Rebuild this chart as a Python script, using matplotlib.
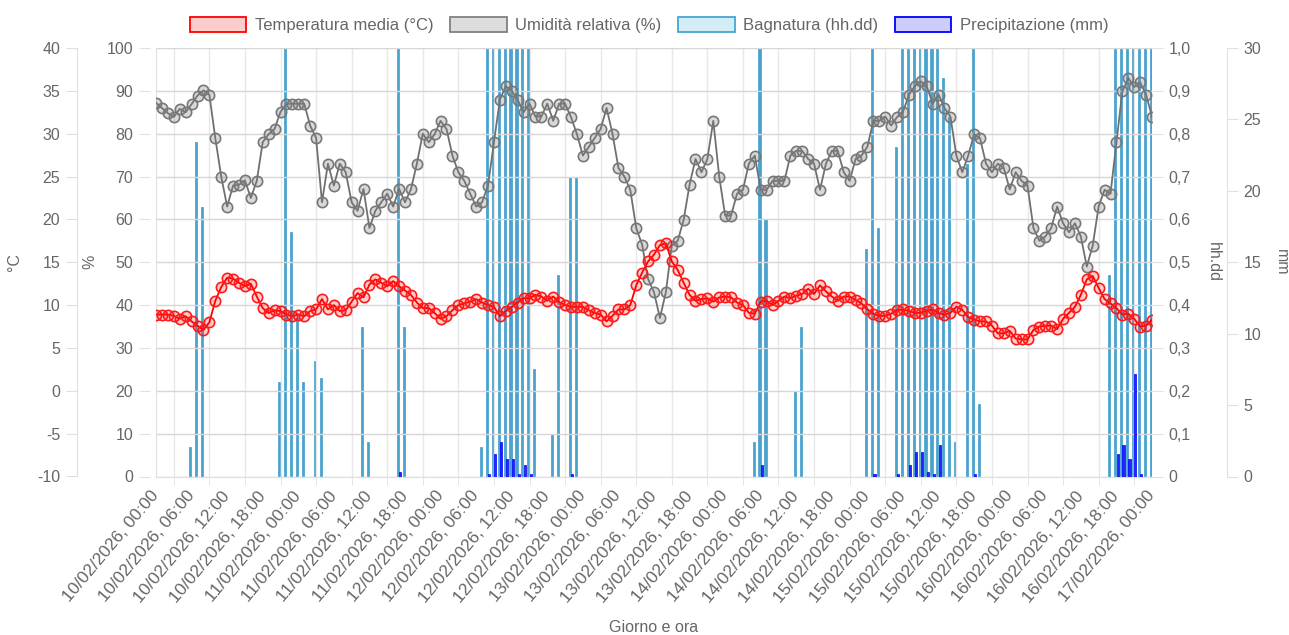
import numpy as np
import matplotlib.pyplot as plt
from matplotlib.patches import Patch
from datetime import datetime, timedelta

plt.rcParams['font.family'] = ['Liberation Sans', 'DejaVu Sans']
plt.rcParams['axes.unicode_minus'] = False

# hourly data, 10/02/2026 00:00 -> 17/02/2026 00:00
start = datetime(2026, 2, 10, 0, 0)
ore = [start + timedelta(hours=h) for h in range(169)]
etichette = [t.strftime('%d/%m/%Y, %H:%M') for t in ore]

temperatura = [
    8.9, 8.9, 8.9, 8.75, 8.4, 8.7, 8.1, 7.6, 7.1, 8.0, 10.5, 12.1,
    13.2, 13.1, 12.6, 12.2, 12.5, 11.0, 9.65, 9.07, 9.4, 9.3, 8.9, 8.7,
    8.9, 8.7, 9.3, 9.5, 10.7, 9.5, 10.0, 9.3, 9.4, 10.4, 11.4, 10.9,
    12.4, 13.0, 12.6, 12.2, 12.8, 12.2, 11.7, 11.2, 10.3, 9.65, 9.65, 9.07,
    8.4, 8.7, 9.4, 10.0, 10.2, 10.4, 10.7, 10.3, 10.0, 9.8, 8.7, 9.3,
    9.8, 10.3, 10.8, 10.8, 11.2, 11.0, 10.5, 11.0, 10.35, 10.0, 9.8, 9.8,
    9.8, 9.4, 9.07, 8.9, 8.1, 8.75, 9.5, 9.5, 10.0, 12.3, 13.8, 15.1,
    15.9, 17.0, 17.2, 15.1, 14.1, 12.6, 11.2, 10.5, 10.7, 10.8, 10.4, 10.9,
    11.0, 10.9, 10.3, 10.0, 9.1, 9.0, 10.4, 10.5, 10.0, 10.5, 11.0, 10.8,
    11.1, 11.3, 11.9, 11.3, 12.3, 11.6, 11.0, 10.5, 11.0, 11.0, 10.6, 10.2,
    9.5, 9.0, 8.75, 8.75, 9.0, 9.4, 9.5, 9.3, 9.1, 9.1, 9.35, 9.5,
    9.07, 8.9, 9.1, 9.8, 9.45, 8.6, 8.3, 8.1, 8.1, 7.6, 6.7, 6.7,
    7.0, 6.1, 6.0, 6.0, 7.1, 7.5, 7.6, 7.6, 7.2, 8.4, 9.1, 9.8,
    11.2, 13.0, 13.4, 12.0, 10.7, 10.2, 9.65, 8.9, 9.0, 8.4, 7.5, 7.6,
    8.3,
]

umidita = [
    87.2, 86.0, 84.8, 83.9, 85.8, 85.0, 86.9, 88.9, 90.1, 89.1, 79.0, 70.0,
    63.0, 67.9, 68.1, 69.1, 65.0, 69.0, 78.0, 79.9, 81.1, 85.1, 87.0, 87.0,
    87.0, 87.0, 81.9, 79.0, 64.0, 73.0, 67.9, 73.0, 71.0, 64.0, 62.0, 67.1,
    58.0, 62.0, 64.0, 66.0, 63.0, 67.1, 64.0, 67.0, 73.0, 80.0, 78.0, 79.9,
    83.0, 81.1, 74.9, 71.0, 69.0, 66.0, 63.0, 64.0, 67.9, 78.0, 87.9, 91.1,
    90.0, 87.9, 85.0, 87.0, 84.0, 84.0, 87.0, 83.0, 87.0, 87.0, 83.9, 79.9,
    74.9, 76.9, 79.0, 81.1, 86.0, 80.0, 72.0, 70.0, 66.9, 58.0, 54.1, 46.1,
    43.0, 37.0, 43.0, 53.9, 55.0, 59.9, 68.1, 74.1, 71.0, 74.1, 83.0, 70.0,
    60.9, 60.9, 66.0, 66.9, 73.0, 74.9, 66.9, 66.9, 69.0, 69.0, 69.0, 74.9,
    76.0, 76.0, 74.1, 73.0, 66.9, 73.0, 76.0, 76.0, 71.0, 69.0, 74.1, 74.9,
    77.0, 83.0, 83.0, 84.0, 81.9, 83.9, 85.1, 89.1, 91.1, 92.2, 91.1, 87.0,
    89.1, 86.0, 84.0, 74.9, 71.0, 74.9, 79.9, 78.9, 73.0, 71.0, 73.0, 72.0,
    67.0, 71.0, 69.0, 67.9, 58.0, 55.0, 56.0, 58.0, 63.0, 59.1, 57.0, 59.1,
    56.0, 49.0, 53.9, 63.0, 66.9, 66.0, 78.0, 89.9, 93.0, 90.9, 92.0, 89.1,
    84.0,
]

bagnatura = [
    0, 0, 0, 0, 0, 0, 0.07, 0.78, 0.63, 0, 0, 0,
    0, 0, 0, 0, 0, 0, 0, 0, 0, 0.22, 1.0, 0.57,
    0.37, 0.22, 0, 0.27, 0.23, 0, 0, 0, 0, 0, 0, 0.35,
    0.08, 0, 0, 0, 0, 1.0, 0.35, 0, 0, 0, 0, 0,
    0, 0, 0, 0, 0, 0, 0, 0.07, 1.0, 1.0, 1.0, 1.0,
    1.0, 1.0, 1.0, 1.0, 0.25, 0, 0, 0.1, 0.47, 0, 0.7, 0.7,
    0, 0, 0, 0, 0, 0, 0, 0, 0, 0, 0, 0,
    0, 0, 0, 0, 0, 0, 0, 0, 0, 0, 0, 0,
    0, 0, 0, 0, 0, 0.08, 1.0, 0.6, 0, 0, 0, 0,
    0.2, 0.35, 0, 0, 0, 0, 0, 0, 0, 0, 0, 0,
    0.53, 1.0, 0.58, 0, 0, 0.77, 1.0, 1.0, 1.0, 1.0, 1.0, 1.0,
    1.0, 0.93, 0.84, 0.08, 0, 0.73, 1.0, 0.17, 0, 0, 0, 0,
    0, 0, 0, 0, 0, 0, 0, 0, 0, 0, 0, 0,
    0, 0, 0, 0, 0, 0.47, 1.0, 1.0, 1.0, 1.0, 1.0, 1.0,
    1.0,
]

precipitazione = [
    0, 0, 0, 0, 0, 0, 0, 0, 0, 0, 0, 0,
    0, 0, 0, 0, 0, 0, 0, 0, 0, 0, 0, 0,
    0, 0, 0, 0, 0, 0, 0, 0, 0, 0, 0, 0,
    0, 0, 0, 0, 0, 0.3, 0, 0, 0, 0, 0, 0,
    0, 0, 0, 0, 0, 0, 0, 0, 0.2, 1.6, 2.4, 1.2,
    1.2, 0.2, 0.8, 0.2, 0, 0, 0, 0, 0, 0, 0.15, 0,
    0, 0, 0, 0, 0, 0, 0, 0, 0, 0, 0, 0,
    0, 0, 0, 0, 0, 0, 0, 0, 0, 0, 0, 0,
    0, 0, 0, 0, 0, 0, 0.8, 0, 0, 0, 0, 0,
    0, 0, 0, 0, 0, 0, 0, 0, 0, 0, 0, 0,
    0, 0.2, 0, 0, 0, 0.2, 0, 0.8, 1.75, 1.75, 0.35, 0.2,
    2.2, 0, 0, 0, 0, 0, 0.2, 0, 0, 0, 0, 0,
    0, 0, 0, 0, 0, 0, 0, 0, 0, 0, 0, 0,
    0, 0, 0, 0, 0, 0, 1.6, 2.2, 1.2, 7.2, 0.2, 0,
    0,
]

x = np.arange(len(ore))
grigio = '#666666'
fs = 11.5

fig = plt.figure(figsize=(12.89, 6.35), dpi=100)
W, H = 1289, 635
rect = [156 / W, 1 - 476.5 / H, (1152 - 156) / W, (476.5 - 48) / H]

ax_b = fig.add_axes(rect)
ax_p = ax_b.twinx()
ax_h = ax_b.twinx()
ax_t = ax_b.twinx()
for z, a in enumerate([ax_b, ax_p, ax_h, ax_t]):
    a.set_zorder(z)
    if z > 0:
        a.patch.set_visible(False)
    for s in a.spines.values():
        s.set_visible(False)
    a.set_xlim(0, 168)

# bars (two bar datasets grouped in each hour)
ax_b.bar(x - 0.2, bagnatura, width=0.36, color='#4aa3cf', edgecolor='#3d9dcb', linewidth=0.5)
ax_p.bar(x + 0.2, precipitazione, width=0.36, color='#2424ff', edgecolor='#0000ff', linewidth=0.5)

# lines
ax_h.plot(x, umidita, color='#707070', lw=1.3, marker='o', ms=7.4,
          mfc=(0.5, 0.5, 0.5, 0.3), mec='#777777', mew=1.2)
ax_t.plot(x, temperatura, color='#ff0000', lw=1.3, marker='o', ms=7.4,
          mfc=(1, 0, 0, 0.2), mec='#ff1a1a', mew=1.2)

ax_b.set_ylim(0, 1)
ax_p.set_ylim(0, 30)
ax_h.set_ylim(0, 100)
ax_t.set_ylim(-10, 40)

# grid
ax_b.set_yticks(np.linspace(0, 1, 11))
ax_b.set_yticklabels(['0'] + ['%d,%d' % (v // 10, v % 10) for v in range(1, 11)])
ax_b.yaxis.tick_right()
ax_b.grid(axis='y', color='#d6d6d6', lw=1)
ax_b.set_xticks(np.arange(3, 168, 6), minor=True)
ax_b.grid(axis='x', which='minor', color='#e8e8e8', lw=1)
ax_b.set_xticks(np.arange(0, 169, 6))
ax_b.set_xticklabels(etichette[::6], rotation=50, ha='right', rotation_mode='anchor', va='center')
ax_b.tick_params(axis='x', which='major', length=0, pad=12, labelsize=12.5, labelcolor=grigio)
ax_b.tick_params(axis='x', which='minor', length=6, color='#e0e0e0')
ax_b.tick_params(axis='y', length=8, color='#e0e0e0', pad=4, labelsize=fs, labelcolor=grigio)
ax_b.spines['left'].set_visible(True)
ax_b.spines['bottom'].set_visible(True)
ax_b.spines['left'].set_color('#e0e0e0')
ax_b.spines['bottom'].set_color('#e0e0e0')

for a in [ax_p, ax_h, ax_t]:
    a.tick_params(axis='x', which='both', bottom=False, labelbottom=False)

ax_p.set_yticks(np.arange(0, 31, 5))
ax_p.spines['right'].set_visible(True)
ax_p.spines['right'].set_position(('outward', 75 * 0.72))
ax_p.spines['right'].set_color('#e0e0e0')
ax_p.tick_params(axis='y', length=8, color='#e0e0e0', pad=4, labelsize=fs, labelcolor=grigio)

ax_h.yaxis.tick_left()
ax_h.set_yticks(np.arange(0, 101, 10))
ax_h.spines['left'].set_position(('outward', 6 * 0.72))
ax_h.tick_params(axis='y', length=8, color='#e0e0e0', pad=4, labelsize=fs, labelcolor=grigio)

ax_t.yaxis.tick_left()
ax_t.set_yticks(np.arange(-10, 41, 5))
ax_t.spines['left'].set_visible(True)
ax_t.spines['left'].set_position(('outward', 79 * 0.72))
ax_t.spines['left'].set_color('#e0e0e0')
ax_t.tick_params(axis='y', length=8, color='#e0e0e0', pad=4, labelsize=fs, labelcolor=grigio)

# axis titles
fig.text(15 / W, 1 - 262 / H, '°C', rotation=90, ha='center', va='center', fontsize=fs, color=grigio)
fig.text(90 / W, 1 - 262 / H, '%', rotation=90, ha='center', va='center', fontsize=fs, color=grigio)
fig.text(1213 / W, 1 - 262 / H, 'hh.dd', rotation=270, ha='center', va='center', fontsize=fs, color=grigio)
fig.text(1281 / W, 1 - 262 / H, 'mm', rotation=270, ha='center', va='center', fontsize=fs, color=grigio)
fig.text(654 / W, 1 - 628 / H, 'Giorno e ora', ha='center', va='center', fontsize=fs, color=grigio)

# legend
handles = [
    Patch(facecolor='#ffcccc', edgecolor='#ff0000', lw=1.3),
    Patch(facecolor='#dddddd', edgecolor='#808080', lw=1.3),
    Patch(facecolor='#d3edf7', edgecolor='#45a6d6', lw=1.3),
    Patch(facecolor='#ccccff', edgecolor='#0000ff', lw=1.3),
]
nomi = ['Temperatura media (°C)', 'Umidità relativa (%)', 'Bagnatura (hh.dd)', 'Precipitazione (mm)']
leg = fig.legend(handles, nomi, loc='center', bbox_to_anchor=(649 / W, 1 - 25 / H), ncol=4,
                 frameon=False, fontsize=12, handlelength=3.4, handleheight=1.0,
                 handletextpad=0.5, columnspacing=1.0, borderaxespad=0)
for t in leg.get_texts():
    t.set_color(grigio)

fig.savefig('out.png', dpi=100)
